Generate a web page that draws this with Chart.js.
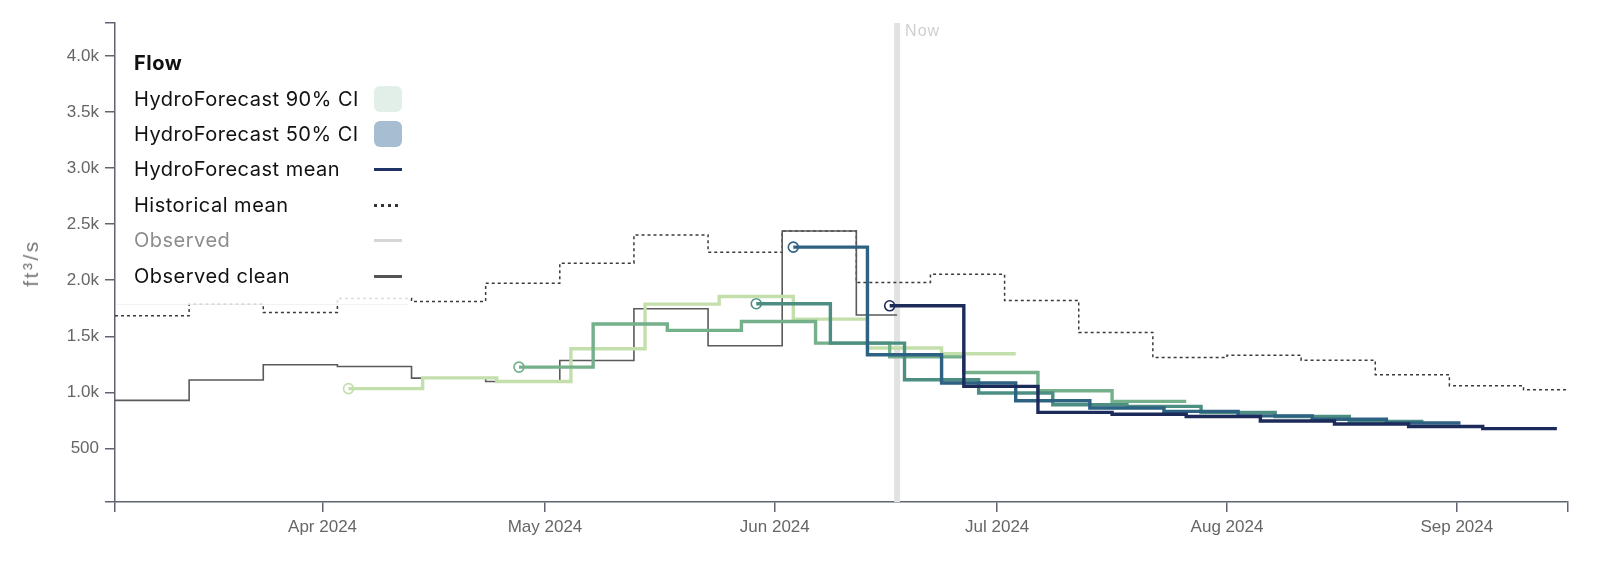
<!DOCTYPE html>
<html>
<head>
<meta charset="utf-8">
<title>Flow</title>
<script src="https://cdn.jsdelivr.net/npm/chart.js@4.4.1/dist/chart.umd.min.js"></script>
<style>
  html, body { margin: 0; padding: 0; background: #fff; }
  #wrap { position: relative; width: 1600px; height: 569px; }
  #legend {
    position: absolute; left: 117px; top: 38px; width: 291px; height: 266px;
    background: rgba(255, 255, 255, 0.82);
    border-bottom: 1px solid rgba(0, 0, 0, 0.05);
    font-family: Inter, "Noto Sans", sans-serif; font-size: 20px; letter-spacing: 0.5px; color: #111;
  }
  #legend .row { position: absolute; left: 17px; width: 270px; height: 30px; line-height: 30px; white-space: nowrap; }
  #legend .title { font-weight: 700; }
  #legend .sym { position: absolute; left: 240px; }
  #legend .box { top: 2px; width: 28px; height: 26px; border-radius: 6px; }
  #legend .line { top: 14px; width: 28px; height: 3px; }
  #ytitle {
    position: absolute; left: 31px; top: 263px; transform: translate(-50%, -50%) rotate(-90deg);
    font-family: Helvetica, Arial, "Liberation Sans", sans-serif; font-size: 21px; letter-spacing: 2.5px;
    color: #777; white-space: nowrap;
  }
</style>
</head>
<body>
<div id="wrap">
  <canvas id="flowChart" width="1600" height="569"></canvas>
  <div id="ytitle">ft³/s</div>
  <div id="legend">
    <div class="row title" style="top:10px">Flow</div>
    <div class="row" style="top:46px">HydroForecast 90% CI<span class="sym box" style="background:#e2efe8"></span></div>
    <div class="row" style="top:81px">HydroForecast 50% CI<span class="sym box" style="background:#a7bed2"></span></div>
    <div class="row" style="top:116px">HydroForecast mean<span class="sym line" style="background:#1f3366"></span></div>
    <div class="row" style="top:152px">Historical mean<span class="sym line" style="background:repeating-linear-gradient(to right,#333 0 3px,transparent 3px 7px)"></span></div>
    <div class="row" style="top:187px;color:#8c8c8c">Observed<span class="sym line" style="background:#d6d6d6"></span></div>
    <div class="row" style="top:223px">Observed clean<span class="sym line" style="background:#555"></span></div>
  </div>
</div>

<script>
// ---------------------------------------------------------------
// Data (ft³/s, 10-day steps)
// ---------------------------------------------------------------
const xStart = "2024-03-04";
const xEnd = "2024-09-16";
const nowDate = "2024-06-17T12:00";

const monthTicks = ["2024-04-01", "2024-05-01", "2024-06-01", "2024-07-01", "2024-08-01", "2024-09-01"];
const monthLabels = ["Apr 2024", "May 2024", "Jun 2024", "Jul 2024", "Aug 2024", "Sep 2024"];

const yTicks = [500, 1000, 1500, 2000, 2500, 3000, 3500, 4000];
const yLabels = ["500", "1.0k", "1.5k", "2.0k", "2.5k", "3.0k", "3.5k", "4.0k"];
const yMin = 22;
const yMax = 4294;

// historical mean, one value per interval between dates
const histDates = ["2024-03-04", "2024-03-14", "2024-03-24", "2024-04-03", "2024-04-13", "2024-04-23",
    "2024-05-03", "2024-05-13", "2024-05-23", "2024-06-02", "2024-06-12", "2024-06-22", "2024-07-02",
    "2024-07-12", "2024-07-22", "2024-08-01", "2024-08-11", "2024-08-21", "2024-08-31", "2024-09-10", "2024-09-16"];
const histMean = [1683, 1787, 1712, 1837, 1811, 1974, 2152, 2404, 2250, 2440, 1980, 2054,
    1820, 1533, 1310, 1330, 1287, 1157, 1059, 1023];

// observed clean
const obsDates = ["2024-03-04", "2024-03-14", "2024-03-24", "2024-04-03", "2024-04-13", "2024-04-23",
    "2024-05-03", "2024-05-13", "2024-05-23", "2024-06-02", "2024-06-12", "2024-06-17T12:00"];
const obsClean = [928, 1110, 1246, 1231, 1127, 1097, 1284, 1745, 1415, 2439, 1690];

// forecasts: issue date + nine 10-day means (oldest -> newest)
const fcIssued = ["2024-04-04T12:00", "2024-04-27T12:00", "2024-05-29T12:00", "2024-06-03T12:00", "2024-06-16T12:00"];
const fcApr04 = [1033, 1129, 1097, 1389, 1787, 1855, 1653, 1395, 1344];
const fcApr27 = [1225, 1609, 1553, 1632, 1439, 1316, 1177, 1014, 919];
const fcMay29 = [1790, 1439, 1112, 994, 889, 875, 820, 785, 741];
const fcJun03 = [2295, 1335, 1083, 925, 860, 830, 790, 760, 726];
const fcJun16 = [1772, 1053, 821, 805, 785, 745, 718, 696, 676];
const fcValues = [fcApr04, fcApr27, fcMay29, fcJun03, fcJun16];
const fcColors = ["#c3dfac", "#74b08a", "#4d8e82", "#2e6283", "#1d2b5b"];
const stepDays = 10;

const axisColor = "#5f6470";
const tickFont = "Helvetica, Arial, 'Liberation Sans', sans-serif";

// ---------------------------------------------------------------
// Helpers
// ---------------------------------------------------------------
const toDay = s => Date.parse(s.includes("T") ? s + "Z" : s) / 864e5;

function stepPoints(dates, values) {
    return dates.map((d, i) => ({ x: toDay(d), y: values[Math.min(i, values.length - 1)] }));
}

function forecastPoints(issued, values) {
    const start = toDay(issued);
    const pts = values.map((v, i) => ({ x: start + i * stepDays, y: v }));
    pts.push({ x: start + values.length * stepDays, y: values[values.length - 1] });
    return pts;
}

const xTickValues = [toDay(xStart), ...monthTicks.map(toDay), toDay(xEnd)];
const xTickText = new Map(monthTicks.map((d, i) => [toDay(d), monthLabels[i]]));
const yTickValues = [yMin, ...yTicks, yMax];
const yTickText = new Map(yTicks.map((v, i) => [v, yLabels[i]]));

// ---------------------------------------------------------------
// Datasets (first in array is drawn on top)
// ---------------------------------------------------------------
const lineSets = [];
for (let i = fcValues.length - 1; i >= 0; i--) {
    lineSets.push({
        label: "forecast " + fcIssued[i],
        data: forecastPoints(fcIssued[i], fcValues[i]),
        borderColor: fcColors[i],
        borderWidth: 3.4,
        stepped: "before",
        pointRadius: 0
    });
}

lineSets.push({
    label: "Observed clean",
    data: stepPoints(obsDates, obsClean),
    borderColor: "#5a5a5a",
    borderWidth: 1.6,
    stepped: "before",
    pointRadius: 0
});

lineSets.push({
    label: "Historical mean",
    data: stepPoints(histDates, histMean),
    borderColor: "#3a3a3a",
    borderWidth: 1.5,
    borderDash: [3, 3],
    stepped: "before",
    pointRadius: 0
});

// issue markers, drawn under the lines
const markerSets = fcIssued.map((d, i) => ({
    label: "issued " + d,
    data: [{ x: toDay(d), y: fcValues[i][0] }],
    showLine: false,
    pointRadius: 5,
    pointBorderWidth: 1.6,
    pointBorderColor: fcColors[i],
    pointBackgroundColor: "#fff"
}));

// ---------------------------------------------------------------
// "Now" marker
// ---------------------------------------------------------------
const nowLine = {
    id: "nowLine",
    beforeDatasetsDraw(chart) {
        const { ctx, chartArea, scales } = chart;
        const x = scales.x.getPixelForValue(toDay(nowDate));
        ctx.save();
        ctx.strokeStyle = "#e2e2e2";
        ctx.lineWidth = 6;
        ctx.beginPath();
        ctx.moveTo(x, chartArea.top);
        ctx.lineTo(x, chartArea.bottom);
        ctx.stroke();
        ctx.fillStyle = "#cfcfcf";
        ctx.font = "16px " + tickFont;
        ctx.letterSpacing = "1px";
        ctx.textBaseline = "middle";
        ctx.fillText("Now", x + 8, chartArea.top + 9);
        ctx.restore();
    }
};

// ---------------------------------------------------------------
// Chart
// ---------------------------------------------------------------
new Chart(document.getElementById("flowChart"), {
    type: "line",
    data: { datasets: [...lineSets, ...markerSets] },
    plugins: [nowLine],
    options: {
        responsive: false,
        animation: false,
        layout: { padding: { top: 23, right: 32, bottom: 0, left: 0 } },
        plugins: { legend: { display: false }, tooltip: { enabled: false } },
        scales: {
            x: {
                type: "linear",
                min: toDay(xStart),
                max: toDay(xEnd),
                afterBuildTicks: s => { s.ticks = xTickValues.map(v => ({ value: v })); },
                afterFit: s => { s.height = 67; },
                ticks: {
                    autoSkip: false,
                    maxRotation: 0,
                    padding: 5,
                    color: "#666",
                    font: { family: tickFont, size: 17 },
                    callback: v => xTickText.get(v) || ""
                },
                grid: { drawOnChartArea: false, tickLength: 10, color: axisColor, lineWidth: 1.5 },
                border: { color: axisColor, width: 1.5 }
            },
            y: {
                min: yMin,
                max: yMax,
                afterBuildTicks: s => { s.ticks = yTickValues.map(v => ({ value: v })); },
                afterFit: s => { s.width = 115; },
                ticks: {
                    padding: 6,
                    color: "#666",
                    font: { family: tickFont, size: 17 },
                    callback: v => yTickText.get(v) || ""
                },
                grid: { drawOnChartArea: false, tickLength: 10, color: axisColor, lineWidth: 1.5 },
                border: { color: axisColor, width: 1.5 }
            }
        }
    }
});
</script>
</body>
</html>
